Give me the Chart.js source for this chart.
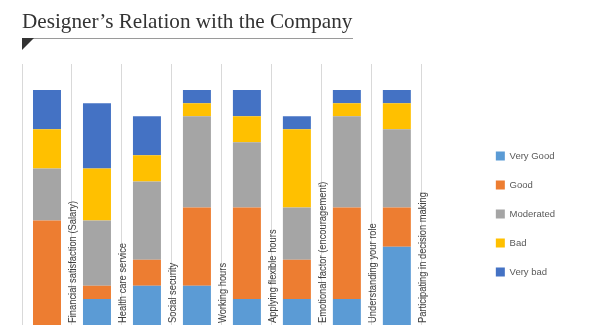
<!DOCTYPE html>
<html>
<head>
<meta charset="utf-8">
<script src="https://cdn.jsdelivr.net/npm/chart.js@4.4.1/dist/chart.umd.min.js"></script>
<style>
  html, body { margin: 0; padding: 0; background: #fff; }
  #wrap { position: relative; width: 600px; height: 336px; overflow: hidden; }
  #myChart { position: absolute; left: 0; top: 0; }
  .title {
    position: absolute; left: 22px; top: 11px;
    font-family: 'Liberation Serif', serif; font-size: 21.2px; line-height: 21.2px;
    color: #333; white-space: nowrap;
  }
  .rule { position: absolute; left: 22px; top: 38px; width: 331px; height: 1px; background: #9a9a9a; }
  .corner {
    position: absolute; left: 22px; top: 38px; width: 0; height: 0;
    border-top: 12px solid #333; border-right: 12px solid transparent;
  }
</style>
</head>
<body>
<div id="wrap">
  <canvas id="myChart" width="600" height="336"></canvas>
  <div class="title">Designer’s Relation with the Company</div>
  <div class="rule"></div>
  <div class="corner"></div>
</div>
<script>
var categories = ['Financial satisfaction (Salary)', 'Health care service', 'Social security', 'Working hours',
    'Applying flexible hours', 'Emotional factor (encouragement)', 'Understanding your role', 'Participating in decision making'];

var veryGood  = [0, 2, 3, 3, 2, 2, 2, 6];
var good      = [8, 1, 2, 6, 7, 3, 7, 3];
var moderated = [4, 5, 6, 7, 5, 4, 7, 6];
var bad       = [3, 4, 2, 1, 2, 6, 1, 2];
var veryBad   = [3, 5, 3, 1, 2, 1, 1, 1];

var sans = "'Liberation Sans', Arial, sans-serif";

// category names are written upright beside each bar (squeezed a bit, like a narrow face)
var sideLabels = {
    id: 'sideLabels',
    afterDatasetsDraw: function (chart) {
        var x = chart.scales.x;
        var c = chart.ctx;
        var half = (x.getPixelForValue(1) - x.getPixelForValue(0)) / 2;
        c.save();
        c.font = '11px ' + sans;
        c.fillStyle = '#404040';
        c.textAlign = 'left';
        c.textBaseline = 'alphabetic';
        categories.forEach(function (name, i) {
            c.save();
            c.translate(x.getPixelForValue(i) + half + 4, chart.chartArea.bottom - 2);
            c.rotate(-Math.PI / 2);
            c.scale(0.85, 1);
            c.fillText(name, 0, 0);
            c.restore();
        });
        c.restore();
    }
};

var ctx = document.getElementById('myChart').getContext('2d');
var chart = new Chart(ctx, {
    type: 'bar',
    data: {
        labels: categories,
        datasets: [
            { label: 'Very Good', data: veryGood, backgroundColor: '#5B9BD5' },
            { label: 'Good', data: good, backgroundColor: '#ED7D31' },
            { label: 'Moderated', data: moderated, backgroundColor: '#A5A5A5' },
            { label: 'Bad', data: bad, backgroundColor: '#FFC000' },
            { label: 'Very bad', data: veryBad, backgroundColor: '#4472C4' }
        ]
    },
    options: {
        responsive: false,
        animation: false,
        devicePixelRatio: 1,
        layout: { padding: { top: 64, left: 22, right: 35, bottom: 11 } },
        datasets: { bar: { barPercentage: 0.7, categoryPercentage: 0.8, borderWidth: 0 } },
        scales: {
            x: {
                stacked: true,
                border: { display: false },
                grid: { color: '#D9D9D9', drawTicks: false, offset: true },
                ticks: { display: false }
            },
            y: {
                stacked: true,
                position: 'right',
                min: 0,
                max: 20,
                border: { display: false },
                grid: { display: false },
                ticks: { display: false },
                afterFit: function (scale) { scale.width = 54.5; }
            }
        },
        plugins: {
            tooltip: { enabled: false },
            legend: {
                position: 'right',
                align: 'center',
                fullSize: false,
                title: { display: true, text: '', font: { size: 1 }, padding: { top: 38, bottom: 0 } },
                labels: {
                    boxWidth: 9,
                    boxHeight: 9,
                    padding: 19.5,
                    color: '#595959',
                    font: { size: 9.5, family: sans }
                }
            }
        }
    },
    plugins: [sideLabels]
});
</script>
</body>
</html>
